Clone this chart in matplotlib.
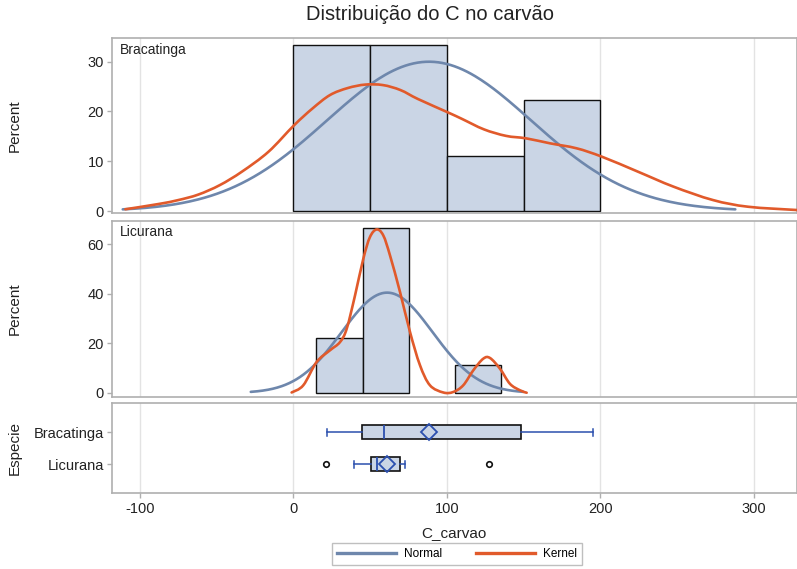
import numpy as np
import matplotlib
matplotlib.use("Agg")
import matplotlib.pyplot as plt
from matplotlib.lines import Line2D
from matplotlib.path import Path
from matplotlib.patches import PathPatch

plt.rcParams['font.family'] = ['Liberation Sans', 'DejaVu Sans']

# ---------------- data ----------------
title = "Distribuição do C no carvão"
xlabel = "C_carvao"
species = ["Bracatinga", "Licurana"]

# Histograms (percent)
brac_edges = [0, 50, 100, 150, 200]
brac_pct = [33.33, 33.33, 11.11, 22.22]
lic_edges = [15, 45, 75, 105, 135]
lic_pct = [22.22, 66.67, 0.0, 11.11]

# Fitted normal parameters (mean, std)
brac_mu, brac_sd = 88.3, 66.5
lic_mu, lic_sd = 61.0, 29.6

# Kernel density curves (x, percent)
brac_kx = [-109.5, -88.0, -75.0, -62.0, -48.0, -33.6, -16.3, 0.3, 12.4, 23.8, 35.3,
           46.8, 58.3, 69.7, 81.1, 100.7, 109.8, 124.1, 138.4, 151.5, 167.1,
           184.4, 201.0, 224.4, 247.5, 273.3, 296.1, 327.8]
brac_ky = [0.35, 1.4, 2.2, 3.3, 5.2, 7.9, 11.9, 17.2, 20.6, 23.3, 24.7,
           25.4, 25.3, 24.3, 22.5, 19.8, 18.5, 16.4, 15.1, 14.6, 13.6,
           12.6, 10.9, 7.9, 4.9, 2.2, 0.86, 0.2]
lic_kx = [-1.2, 6.4, 15.1, 23.8, 30.3, 34.7, 40.1, 45.5, 49.8, 54.2, 58.5,
          62.9, 69.4, 75.9, 82.4, 88.9, 97.6, 104.1, 110.6, 117.1, 123.6,
          128.0, 134.5, 141.0, 147.5, 151.9]
lic_ky = [0.2, 3.1, 12.5, 17.2, 20.5, 25.9, 39.3, 54.1, 62.8, 65.9, 63.5,
          55.4, 40.7, 24.6, 11.2, 3.1, 0.2, 0.4, 3.1, 9.1, 13.8,
          14.1, 9.8, 3.7, 1.1, 0.1]

# Box plot statistics
box_whislo = [21.6, 39.6]
box_q1 = [44.6, 50.7]
box_med = [59.0, 54.4]
box_mean = [88.3, 61.0]
box_q3 = [148.2, 69.4]
box_whishi = [195.0, 72.6]
box_fliers = [[], [21.0, 127.6]]

xticks = [-100, 0, 100, 200, 300]
# --------------------------------------

FILL = '#CAD5E5'
NORM_C = '#6E87AC'
KERN_C = '#E15A2B'
BOXBLUE = '#2B4FAE'
FRAME = '#AFAFAF'
GRID = '#E3E3E3'
TXT = '#222222'

fig = plt.figure(figsize=(7.97, 5.69), dpi=100)
W, H = 797.0, 569.0
left, right = 111.7 / W, 797.0 / W

def mkax(top_px, bot_px):
    return fig.add_axes([left, 1 - bot_px / H, right - left, (bot_px - top_px) / H])

ax1 = mkax(38.3, 213.0)
ax2 = mkax(221.0, 396.7)
ax3 = mkax(403.3, 493.3)

XLIM = (-118.4, 328.0)
LABX = -0.131

def style(ax):
    ax.set_xlim(*XLIM)
    for s in ax.spines.values():
        s.set_color(FRAME)
        s.set_linewidth(1.2)
    ax.set_xticks(xticks)
    ax.grid(axis='x', color=GRID, lw=1.0)
    ax.set_axisbelow(True)
    ax.tick_params(colors=FRAME, labelcolor=TXT, labelsize=10.5, length=3.5, width=1, pad=2)

def normal_curve(mu, sd, width):
    xs = np.linspace(mu - 3 * sd, mu + 3 * sd, 300)
    ys = width * 100 * np.exp(-0.5 * ((xs - mu) / sd) ** 2) / (sd * np.sqrt(2 * np.pi))
    return xs, ys

def smooth_curve(ax, x, y, **kw):
    # draw a smooth Bezier path through the read points
    p = np.column_stack([x, y]).astype(float)
    n = len(p)
    verts = [p[0]]
    codes = [Path.MOVETO]
    for i in range(n - 1):
        pp = p[max(i - 1, 0)]
        pn = p[min(i + 2, n - 1)]
        c1 = p[i] + (p[i + 1] - pp) / 6.0
        c2 = p[i + 1] - (pn - p[i]) / 6.0
        verts += [c1, c2, p[i + 1]]
        codes += [Path.CURVE4] * 3
    patch = PathPatch(Path(verts, codes), fill=False, **kw)
    ax.add_patch(patch)

for ax, edges, pct, mu, sd, kx, ky, name, ylim, yt in [
        (ax1, brac_edges, brac_pct, brac_mu, brac_sd, brac_kx, brac_ky, species[0], (-0.4, 34.7), [0, 10, 20, 30]),
        (ax2, lic_edges, lic_pct, lic_mu, lic_sd, lic_kx, lic_ky, species[1], (-1.5, 69.3), [0, 20, 40, 60])]:
    style(ax)
    e = np.array(edges)
    widths = np.diff(e)
    for l, w, p in zip(e[:-1], widths, pct):
        if p > 0:
            ax.bar(l, p, width=w, align='edge', color=FILL, edgecolor='#111111', linewidth=1.0, zorder=2)
    nx, ny = normal_curve(mu, sd, widths[0])
    ax.plot(nx, ny, color=NORM_C, lw=1.9, zorder=3, solid_capstyle='round')
    smooth_curve(ax, kx, ky, edgecolor=KERN_C, lw=1.9, zorder=4, capstyle='round', joinstyle='round')
    ax.set_ylim(*ylim)
    ax.set_yticks(yt)
    ax.tick_params(axis='x', length=0, labelbottom=False)
    ax.set_ylabel("Percent", fontsize=11, color=TXT)
    ax.yaxis.set_label_coords(LABX, 0.5)
    ax.text(0.012, 0.975, name, transform=ax.transAxes, ha='left', va='top', fontsize=10, color=TXT)

# box plot panel
style(ax3)
stats = []
for i in range(2):
    stats.append(dict(label=species[i], whislo=box_whislo[i], q1=box_q1[i], med=box_med[i],
                      q3=box_q3[i], whishi=box_whishi[i], mean=box_mean[i], fliers=box_fliers[i]))
ax3.bxp(stats, positions=[0, 1], vert=False, widths=0.43, patch_artist=True,
        showmeans=True, capwidths=0.22,
        boxprops=dict(facecolor=FILL, edgecolor='#111111', linewidth=1.2),
        whiskerprops=dict(color=BOXBLUE, linewidth=1.1),
        capprops=dict(color=BOXBLUE, linewidth=1.1),
        medianprops=dict(color=BOXBLUE, linewidth=1.3),
        meanprops=dict(marker='D', markerfacecolor='none', markeredgecolor=BOXBLUE,
                       markersize=8.5, markeredgewidth=1.3),
        flierprops=dict(marker='o', markerfacecolor='white', markeredgecolor='#111111',
                        markersize=4, markeredgewidth=1.2),
        zorder=3)
ax3.set_ylim(1.9, -0.9)
ax3.set_yticks([0, 1])
ax3.set_yticklabels(species)
ax3.set_xticks(xticks)
ax3.set_xticklabels([str(t) for t in xticks])
ax3.set_xlim(*XLIM)
ax3.tick_params(axis='x', pad=3)
ax3.set_ylabel("Especie", fontsize=11, color=TXT)
ax3.yaxis.set_label_coords(LABX, 0.5)
ax3.set_xlabel(xlabel, fontsize=11, color=TXT, labelpad=7)

fig.text(430 / W, 1 - 15 / H, title, ha='center', va='center', fontsize=14.5, color=TXT)

handles = [Line2D([], [], color=NORM_C, lw=2.4), Line2D([], [], color=KERN_C, lw=2.4)]
leg = fig.legend(handles, ["Normal", "Kernel"], loc='center', bbox_to_anchor=(457 / W, 1 - 554 / H),
                 ncol=2, frameon=True, fancybox=False, fontsize=8.5, handlelength=5.0,
                 columnspacing=2.8, handletextpad=0.7, borderpad=0.4)
leg.get_frame().set_edgecolor(FRAME)
leg.get_frame().set_linewidth(1.0)

fig.savefig("out.png", dpi=100)
